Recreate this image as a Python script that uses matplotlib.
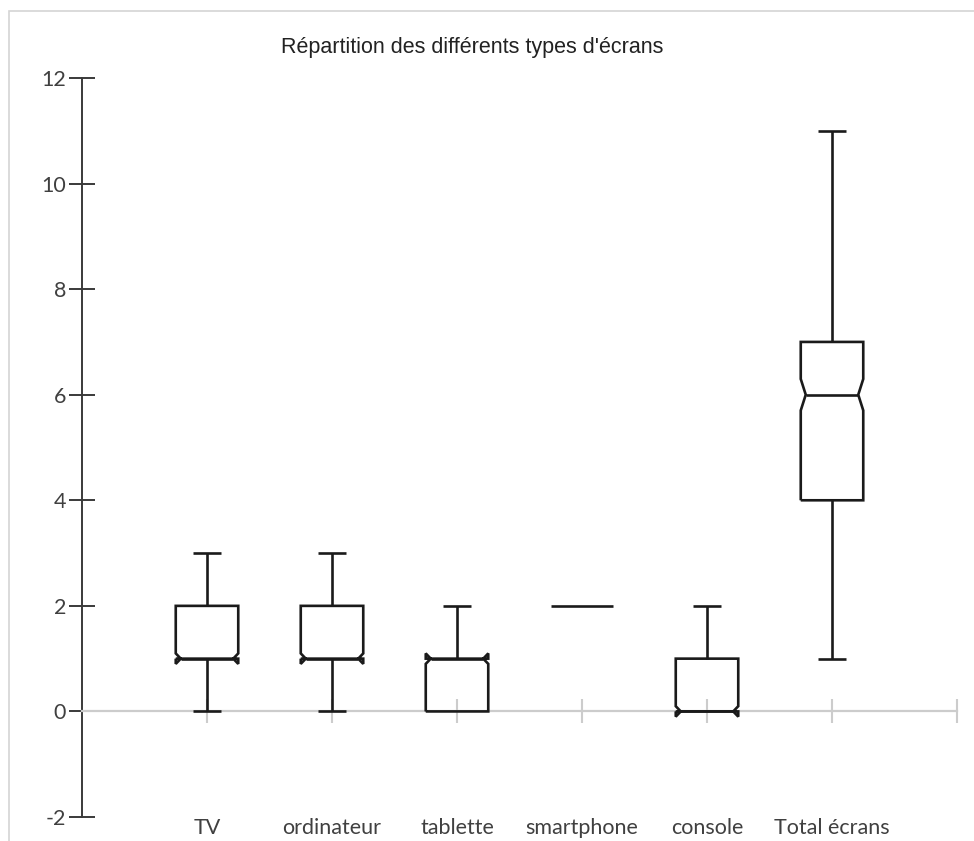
import matplotlib.pyplot as plt
import numpy as np
from matplotlib.patches import Rectangle

plt.rcParams['axes.unicode_minus'] = False

# Box plot statistics
categories = ['TV', 'ordinateur', 'tablette', 'smartphone', 'console', 'Total écrans']
whisker_low = [0, 0, 0, 2, 0, 1]
q1 = [1, 1, 0, 2, 0, 4]
median = [1, 1, 1, 2, 0, 6]
q3 = [2, 2, 1, 2, 1, 7]
whisker_high = [3, 3, 2, 2, 2, 11]
n_obs = 250  # sample size giving the notch height

W, H = 974, 841
fig = plt.figure(figsize=(W / 100, H / 100), dpi=100)
ax = fig.add_axes([82 / W, 1 - 817 / H, 875 / W, (817 - 78) / H])

# light screenshot frame
fig.patches.append(Rectangle((9 / W, -0.1), 1.2, 1 - 11 / H + 0.1, transform=fig.transFigure,
                             fill=False, edgecolor='#d4d4d4', linewidth=1.2))

line_kw = dict(color='#1a1a1a', linewidth=1.9, solid_joinstyle='miter', solid_capstyle='butt', zorder=3)
box_w = 0.5
cap_w = 0.22
notch_frac = 0.42  # half-width at notch relative to box width

for i, cat in enumerate(categories):
    pos = i + 1
    iqr = q3[i] - q1[i]
    ci = 1.57 * iqr / np.sqrt(n_obs)
    lo, hi = median[i] - ci, median[i] + ci
    left, right = pos - box_w / 2, pos + box_w / 2
    nl, nr = pos - box_w * notch_frac, pos + box_w * notch_frac
    if iqr > 0:
        bx = [left, right, right, nr, right, right, left, left, nl, left, left]
        by = [q1[i], q1[i], lo, median[i], hi, q3[i], q3[i], hi, median[i], lo, q1[i]]
        ax.plot(bx, by, **line_kw)
        ax.plot([nl, nr], [median[i], median[i]], **line_kw)
    else:
        ax.plot([left, right], [median[i], median[i]], **line_kw)
    # whiskers and caps
    if whisker_low[i] < q1[i]:
        ax.plot([pos, pos], [whisker_low[i], q1[i]], **line_kw)
        ax.plot([pos - cap_w / 2, pos + cap_w / 2], [whisker_low[i], whisker_low[i]], **line_kw)
    if whisker_high[i] > q3[i]:
        ax.plot([pos, pos], [q3[i], whisker_high[i]], **line_kw)
        ax.plot([pos - cap_w / 2, pos + cap_w / 2], [whisker_high[i], whisker_high[i]], **line_kw)

ax.set_xlim(0, 7)
ax.set_ylim(-2, 12)

for s in ['top', 'right']:
    ax.spines[s].set_visible(False)
ax.spines['left'].set_color('#3a3a3a')
ax.spines['left'].set_linewidth(1.4)
ax.spines['bottom'].set_position(('data', 0))
ax.spines['bottom'].set_color('#cccccc')
ax.spines['bottom'].set_linewidth(1.6)

ax.set_yticks(np.arange(-2, 13, 2))
ax.tick_params(axis='y', direction='inout', length=19, width=1.4, color='#3a3a3a',
               labelsize=15.5, labelcolor='#404040', pad=2)
ax.set_xticks(np.arange(1, 8))
ax.tick_params(axis='x', direction='inout', length=17, width=1.5, color='#cccccc', labelbottom=False)

sec = ax.secondary_xaxis(location=0)
sec.set_xticks(np.arange(1, len(categories) + 1))
sec.set_xticklabels(categories)
sec.spines['bottom'].set_visible(False)
sec.tick_params(length=0, labelsize=15.5, labelcolor='#404040', pad=1)

for lab in ax.get_yticklabels() + sec.get_xticklabels():
    lab.set_family('Lato')

fig.text(472 / W, 1 - 48 / H, "Répartition des différents types d'écrans",
         ha='center', va='center', fontsize=15.5, family='Liberation Sans', color='#222222')

fig.savefig('out.png', dpi=100)
